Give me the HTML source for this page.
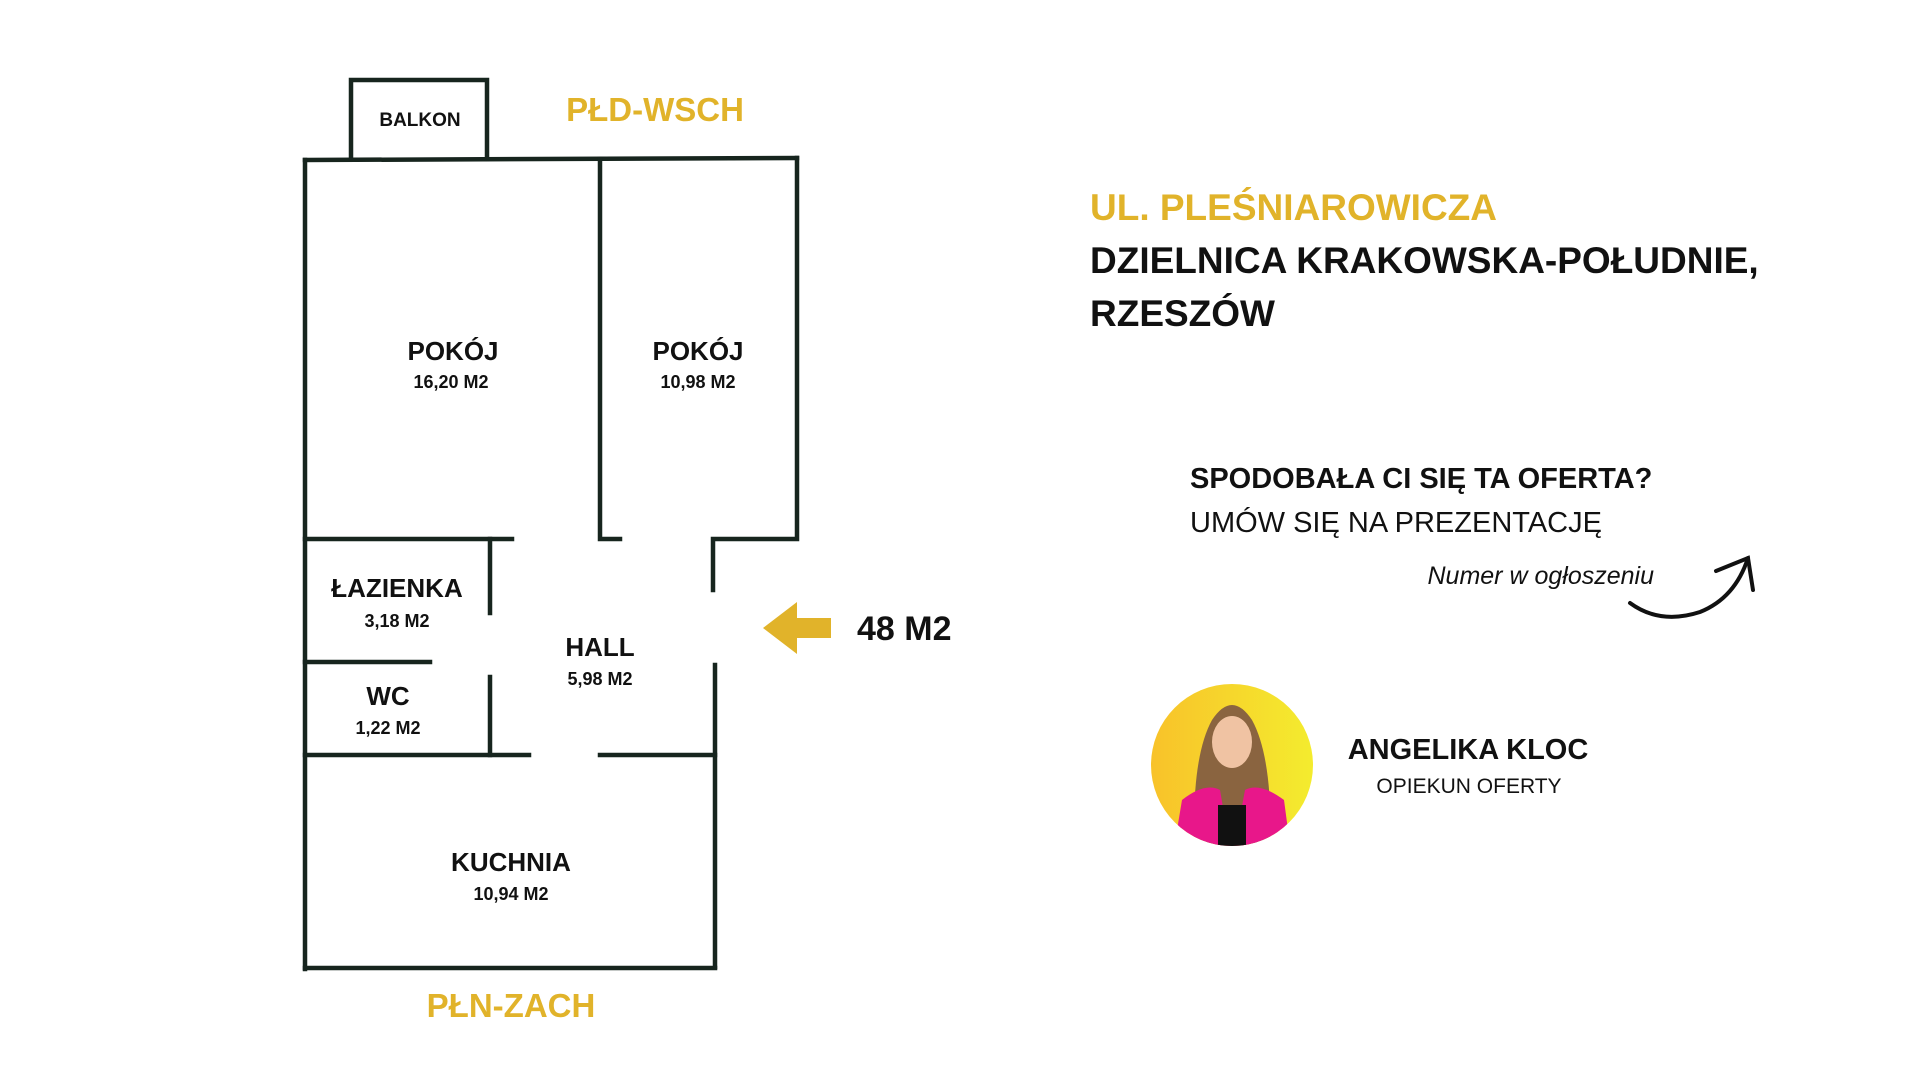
<!DOCTYPE html>
<html><head><meta charset="utf-8"><style>
html,body{margin:0;padding:0;background:#fff;}
svg{display:block;}
text{font-family:"Liberation Sans",sans-serif;}
</style></head><body>
<svg width="1920" height="1080" viewBox="0 0 1920 1080" xmlns="http://www.w3.org/2000/svg">
<defs>
<linearGradient id="g" x1="0" y1="0" x2="1" y2="0">
<stop offset="0" stop-color="#f8c22a"/><stop offset="1" stop-color="#f4ec2e"/>
</linearGradient>
<clipPath id="c"><circle cx="1232" cy="765" r="81"/></clipPath>
</defs>
<g stroke="#17251e" stroke-width="4.5" fill="none" stroke-linecap="square">
<polyline points="351,159 351,80 487,80 487,159"/>
<line x1="305" y1="160" x2="797" y2="158"/>
<line x1="305" y1="160" x2="305" y2="969"/>
<polyline points="620,539 600,539 600,159"/>
<polyline points="797,158 797,539 713,539 713,590"/>
<line x1="715" y1="665" x2="715" y2="967"/>
<line x1="305" y1="539" x2="512" y2="539"/>
<line x1="490" y1="539" x2="490" y2="613"/>
<line x1="305" y1="662" x2="430" y2="662"/>
<line x1="490" y1="677" x2="490" y2="755"/>
<line x1="305" y1="755" x2="529" y2="755"/>
<line x1="600" y1="755" x2="715" y2="755"/>
<line x1="305" y1="968" x2="715" y2="968"/>
</g>
<g font-weight="bold" fill="#111" text-anchor="middle">
<text x="420" y="126" font-size="19">BALKON</text>
<text x="453" y="360" font-size="26">POKÓJ</text>
<text x="451" y="388" font-size="18">16,20 M2</text>
<text x="698" y="360" font-size="26">POKÓJ</text>
<text x="698" y="388" font-size="18">10,98 M2</text>
<text x="397" y="597" font-size="26">ŁAZIENKA</text>
<text x="397" y="627" font-size="18">3,18 M2</text>
<text x="600" y="656" font-size="26">HALL</text>
<text x="600" y="685" font-size="18">5,98 M2</text>
<text x="388" y="705" font-size="26">WC</text>
<text x="388" y="734" font-size="18">1,22 M2</text>
<text x="511" y="871" font-size="26">KUCHNIA</text>
<text x="511" y="900" font-size="18">10,94 M2</text>
</g>
<g font-weight="bold" fill="#e1b32a" font-size="33" text-anchor="middle">
<text x="655" y="121">PŁD-WSCH</text>
<text x="511" y="1017">PŁN-ZACH</text>
</g>
<polygon points="763,628 797,602 797,618 831,618 831,638 797,638 797,654" fill="#e1b32a"/>
<text x="857" y="640" font-size="34" font-weight="bold" fill="#111">48 M2</text>
<text x="1090" y="220" font-size="37" font-weight="bold" fill="#e1b32a">UL. PLEŚNIAROWICZA</text>
<text x="1090" y="273" font-size="37" font-weight="bold" fill="#111">DZIELNICA KRAKOWSKA-POŁUDNIE,</text>
<text x="1090" y="326" font-size="37" font-weight="bold" fill="#111">RZESZÓW</text>
<text x="1190" y="488" font-size="29" font-weight="bold" fill="#111">SPODOBAŁA CI SIĘ TA OFERTA?</text>
<text x="1190" y="532" font-size="29" fill="#111">UMÓW SIĘ NA PREZENTACJĘ</text>
<text x="1654" y="584" font-size="25" font-style="italic" fill="#111" text-anchor="end">Numer w ogłoszeniu</text>
<g stroke="#111" stroke-width="4" fill="none" stroke-linecap="round">
<path d="M1630,603 Q1660,625 1700,612 Q1735,598 1748,558"/>
<polyline points="1716,571 1748,558 1753,590"/>
</g>
<circle cx="1232" cy="765" r="81" fill="url(#g)"/>
<g clip-path="url(#c)">
<path d="M1195,860 Q1190,760 1212,720 Q1232,690 1252,720 Q1274,760 1270,860 Z" fill="#8a6440"/>
<ellipse cx="1232" cy="742" rx="20" ry="26" fill="#f0c3a3"/>
<path d="M1172,860 L1182,800 Q1205,782 1220,790 L1232,860 Z" fill="#e8178a"/>
<path d="M1292,860 L1284,800 Q1260,782 1245,790 L1232,860 Z" fill="#e8178a"/>
<rect x="1218" y="805" width="28" height="60" fill="#111"/>
</g>
<text x="1468" y="759" font-size="29" font-weight="bold" fill="#111" text-anchor="middle">ANGELIKA KLOC</text>
<text x="1469" y="793" font-size="21" fill="#111" text-anchor="middle">OPIEKUN OFERTY</text>
</svg>
</body></html>
